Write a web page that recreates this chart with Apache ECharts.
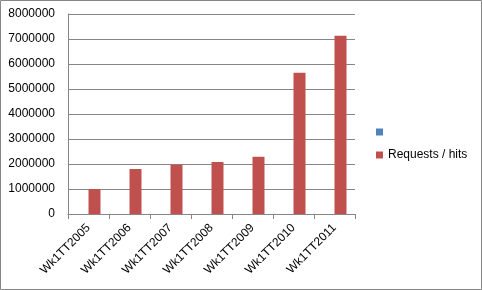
<!DOCTYPE html>
<html>
<head>
<meta charset="utf-8">
<script src="https://cdn.jsdelivr.net/npm/echarts@6/dist/echarts.min.js"></script>
<style>
html,body{margin:0;padding:0;background:#fff;}
#chart{width:482px;height:290px;}
</style>
</head>
<body>
<div id="chart"></div>
<script>
var categories = ['Wk1TT2005','Wk1TT2006','Wk1TT2007','Wk1TT2008','Wk1TT2009','Wk1TT2010','Wk1TT2011'];
var blankSeries = [null, null, null, null, null, null, null];
var requestsHits = [1000000, 1800000, 1970000, 2080000, 2290000, 5650000, 7130000];
var yTicks = {min: 0, max: 8000000, interval: 1000000};
var seriesNames = [' ', 'Requests / hits'];

var chart = echarts.init(document.getElementById('chart'));
var font = 'Liberation Sans, Arial, sans-serif';
chart.setOption({
  animation: false,
  backgroundColor: '#fff',
  color: ['#4F81BD', '#C0504D'],
  graphic: [{
    type: 'rect',
    shape: {x: 0.5, y: 0.5, width: 481, height: 289},
    style: {fill: 'none', stroke: '#868686', lineWidth: 1},
    silent: true
  }],
  grid: {left: 68, top: 14, right: 127, bottom: 76, containLabel: false},
  legend: {
    orient: 'vertical',
    left: 371,
    top: 121,
    itemWidth: 7,
    itemHeight: 7,
    itemGap: 11,
    icon: 'rect',
    data: seriesNames,
    textStyle: {fontFamily: font, fontSize: 12, color: '#000'}
  },
  xAxis: {
    type: 'category',
    data: categories,
    axisLine: {lineStyle: {color: '#868686'}},
    axisTick: {show: true, length: 5, lineStyle: {color: '#868686'}},
    axisLabel: {rotate: 45, margin: 12, fontFamily: font, fontSize: 12, color: '#000', interval: 0}
  },
  yAxis: {
    type: 'value',
    min: yTicks.min,
    max: yTicks.max,
    interval: yTicks.interval,
    axisLine: {show: true, lineStyle: {color: '#868686'}},
    axisTick: {show: false},
    splitLine: {lineStyle: {color: '#868686'}},
    axisLabel: {margin: 13, fontFamily: font, fontSize: 12, color: '#000',
      formatter: function (v) { return String(v); }}
  },
  series: [
    {name: seriesNames[0], type: 'bar', data: blankSeries, barWidth: 12, barGap: '0%'},
    {name: seriesNames[1], type: 'bar', data: requestsHits, barWidth: 12, barGap: '0%'}
  ]
});
</script>
</body>
</html>
